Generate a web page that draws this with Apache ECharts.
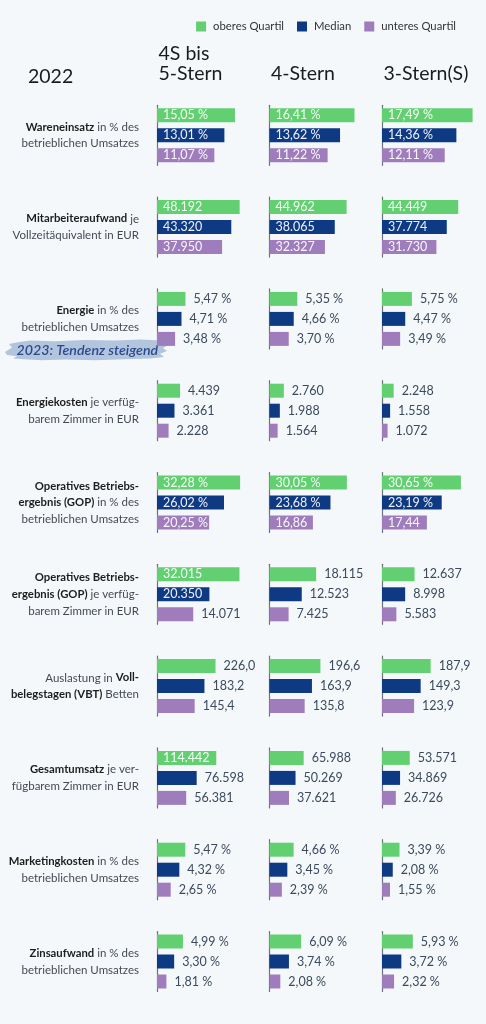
<!DOCTYPE html>
<html><head><meta charset="utf-8">
<script src="https://cdn.jsdelivr.net/npm/echarts@6/dist/echarts.min.js"></script>
<style>html,body{margin:0;padding:0;background:#f5f8fb;}#c{width:486px;height:1024px;}</style>
</head><body><div id="c"></div>
<script>
// ---------- data ----------
const columns = ['4S bis\n5-Stern', '4-Stern', '3-Stern(S)'];
const quartiles = ['oberes Quartil', 'Median', 'unteres Quartil'];
const yearLabel = '2022';
const noteText = '2023: Tendenz steigend';

// each metric: [column][oberes Quartil, Median, unteres Quartil]
const wareneinsatz       = [[15.05, 13.01, 11.07], [16.41, 13.62, 11.22], [17.49, 14.36, 12.11]];
const mitarbeiteraufwand = [[48192, 43320, 37950], [44962, 38065, 32327], [44449, 37774, 31730]];
const energie            = [[5.47, 4.71, 3.48], [5.35, 4.66, 3.70], [5.75, 4.47, 3.49]];
const energiekosten      = [[4439, 3361, 2228], [2760, 1988, 1564], [2248, 1558, 1072]];
const gopProzent         = [[32.28, 26.02, 20.25], [30.05, 23.68, 16.86], [30.65, 23.19, 17.44]];
const gopEur             = [[32015, 20350, 14071], [18115, 12523, 7425], [12637, 8998, 5583]];
const auslastung         = [[226.0, 183.2, 145.4], [196.6, 163.9, 135.8], [187.9, 149.3, 123.9]];
const gesamtumsatz       = [[114442, 76598, 56381], [65988, 50269, 37621], [53571, 34869, 26726]];
const marketingkosten    = [[5.47, 4.32, 2.65], [4.66, 3.45, 2.39], [3.39, 2.08, 1.55]];
const zinsaufwand        = [[4.99, 3.30, 1.81], [6.09, 3.74, 2.08], [5.93, 3.72, 2.32]];

const metricLabels = [
  '{b|Wareneinsatz} in % des\nbetrieblichen Umsatzes',
  '{b|Mitarbeiteraufwand} je\nVollzeitäquivalent in EUR',
  '{b|Energie} in % des\nbetrieblichen Umsatzes',
  '{b|Energiekosten} je verfüg-\nbarem Zimmer in EUR',
  '{b|Operatives Betriebs-}\n{b|ergebnis (GOP)} in % des\nbetrieblichen Umsatzes',
  '{b|Operatives Betriebs-}\n{b|ergebnis (GOP)} je verfüg-\nbarem Zimmer in EUR',
  'Auslastung in {b|Voll-}\n{b|belegstagen (VBT)} Betten',
  '{b|Gesamtumsatz} je ver-\nfügbarem Zimmer in EUR',
  '{b|Marketingkosten} in % des\nbetrieblichen Umsatzes',
  '{b|Zinsaufwand} in % des\nbetrieblichen Umsatzes'
];
const metricFormats = ['pct', 'eur', 'pct', 'eur', 'pct', 'eur', 'dec1', 'eur', 'pct', 'pct'];

// ---------- styling / layout ----------
const metrics = [wareneinsatz, mitarbeiteraufwand, energie, energiekosten, gopProzent,
                 gopEur, auslastung, gesamtumsatz, marketingkosten, zinsaufwand];
const pxPerUnit = [5.18, 0.001715, 5.2, 0.0052, 2.575, 0.002575, 0.259, 0.000518, 5.17, 5.2];
const insideRows = [0, 1, 4];
const insideCells = ['5-0-0', '5-0-1', '7-0-0'];
const colors = ['#62d071', '#0d3a83', '#9f7dbc'];
const FONT = 'Lato';
const colX = [157, 269.5, 382];
const rowY0 = 135.3, rowStep = 91.8, plotW = 100, plotH = 60;

function fmt(v, type) {
  if (type === 'pct') return v.toFixed(2).replace('.', ',') + ' %';
  if (type === 'dec1') return v.toFixed(1).replace('.', ',');
  return String(Math.round(v)).replace(/\B(?=(\d{3})+(?!\d))/g, '.');
}

const grids = [], xAxes = [], yAxes = [], series = [];
metrics.forEach((m, r) => {
  const cy = rowY0 + r * rowStep;
  m.forEach((vals, c) => {
    const gi = grids.length;
    grids.push({ left: colX[c], top: cy - plotH / 2, width: plotW, height: plotH });
    xAxes.push({ gridIndex: gi, type: 'value', min: 0, max: plotW / pxPerUnit[r], show: false });
    yAxes.push({
      gridIndex: gi, type: 'category', data: quartiles, inverse: true,
      axisLine: { show: true, lineStyle: { color: '#6e7278', width: 1.2 } },
      axisTick: { show: false }, axisLabel: { show: false }, splitLine: { show: false }
    });
    quartiles.forEach((qn, q) => {
      const v = vals[q];
      const inside = insideRows.includes(r) || insideCells.includes(r + '-' + c + '-' + q);
      const barLen = v * pxPerUnit[r];
      const label = inside ? {
        show: true, position: 'insideLeft', distance: 6,
        color: 'rgba(255,255,255,0.93)', fontFamily: FONT, fontSize: 12.5,
        width: barLen - 4, overflow: 'truncate', ellipsis: '',
        formatter: () => fmt(v, metricFormats[r])
      } : {
        show: true, position: 'right', distance: 8,
        color: '#3b4a5c', fontFamily: FONT, fontSize: 12.5,
        formatter: () => fmt(v, metricFormats[r])
      };
      series.push({
        type: 'bar', name: qn, xAxisIndex: gi, yAxisIndex: gi,
        barWidth: 14, barGap: '-100%', animation: false,
        itemStyle: { color: colors[q] },
        data: quartiles.map((_, k) => k === q ? { value: v, label } : '-')
      });
    });
  });
});

// ---------- decorative texts ----------
const graphics = [];
graphics.push({ type: 'text', x: 28, y: 77, style: { text: yearLabel, fill: '#1b1b1b', fontFamily: FONT, fontSize: 19.5, verticalAlign: 'middle', align: 'left' } });
columns.forEach((col, c) => {
  const lines = col.split('\n');
  lines.forEach((ln, i) => {
    graphics.push({ type: 'text', x: colX[c] + 1.5, y: 73.5 - (lines.length - 1 - i) * 20,
      style: { text: ln, fill: '#1b1b1b', fontFamily: FONT, fontSize: 19.5, verticalAlign: 'middle', align: 'left' } });
  });
});
metricLabels.forEach((t, r) => {
  graphics.push({ type: 'text', x: 139, y: rowY0 + r * rowStep,
    style: { text: t, fill: '#454a52', fontFamily: FONT, fontSize: 11.5, lineHeight: 16.6,
      align: 'right', verticalAlign: 'middle',
      rich: { b: { fill: '#1d1d1d', fontWeight: 'bold', fontFamily: FONT, fontSize: 11.3, lineHeight: 16.6 } } } });
});
// brush-stroke note badge
graphics.push({ type: 'polygon', z: 1, shape: { points: [
  [5,352],[12,347.5],[9,344],[19,342],[30,340.5],[55,341.2],[85,340],[115,340.6],[140,339.6],[162,340.6],
  [160,343.5],[168,345.2],[163,348],[167,351],[160,353.8],[164,357],[150,358.6],[125,359.2],[95,360.2],
  [65,359.4],[42,360.3],[24,359.3],[13,358.4],[17,356.2],[7,355] ] },
  style: { fill: '#b3c4dd' } });
graphics.push({ type: 'text', z: 2, x: 16.5, y: 350.5, style: { text: noteText, fill: '#2a4a8b', fontFamily: FONT,
  fontSize: 14.2, fontStyle: 'italic', fontWeight: 600, align: 'left', verticalAlign: 'middle' } });

const chart = echarts.init(document.getElementById('c'), null, { renderer: 'canvas' });
chart.setOption({
  backgroundColor: '#f5f8fb',
  animation: false,
  legend: {
    data: quartiles, right: 25, top: 16, icon: 'rect', itemWidth: 10, itemHeight: 10, itemGap: 13,
    textStyle: { fontFamily: FONT, fontSize: 11.3, color: '#333', padding: [0, 0, 0, 2] }
  },
  grid: grids, xAxis: xAxes, yAxis: yAxes, series: series, graphic: graphics
});
</script></body></html>
